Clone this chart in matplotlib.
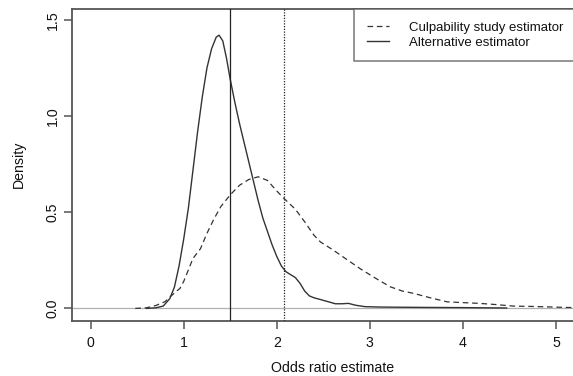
import matplotlib
matplotlib.use("Agg")
import matplotlib.pyplot as plt
from matplotlib.lines import Line2D

plt.rcParams['font.family'] = ['Liberation Sans', 'DejaVu Sans']

# Alternative estimator density (solid)
alt_x = [0.60, 0.70, 0.78, 0.85, 0.90, 0.95, 1.00, 1.05, 1.10, 1.15, 1.20, 1.25, 1.30, 1.35, 1.38,
         1.42, 1.46, 1.50, 1.55, 1.60, 1.65, 1.70, 1.75, 1.80, 1.85, 1.90, 1.95, 2.00, 2.05, 2.10,
         2.15, 2.20, 2.25, 2.30, 2.35, 2.40, 2.47, 2.55, 2.63, 2.70, 2.77, 2.85, 2.95, 3.10, 3.30,
         3.60, 4.00, 4.47]
alt_y = [0.0, 0.003, 0.012, 0.05, 0.11, 0.22, 0.36, 0.52, 0.72, 0.92, 1.10, 1.25, 1.35, 1.41, 1.42,
         1.39, 1.30, 1.19, 1.07, 0.96, 0.86, 0.76, 0.66, 0.56, 0.47, 0.40, 0.33, 0.27, 0.22, 0.19,
         0.175, 0.16, 0.13, 0.09, 0.065, 0.055, 0.046, 0.035, 0.024, 0.024, 0.026, 0.016, 0.009, 0.007, 0.006,
         0.005, 0.004, 0.002]

# Culpability study estimator density (dashed)
cul_x = [0.48, 0.60, 0.70, 0.80, 0.855, 0.90, 0.96, 1.00, 1.10, 1.18, 1.25, 1.32, 1.40, 1.50, 1.60,
         1.70, 1.80, 1.90, 2.00, 2.07, 2.20, 2.30, 2.40, 2.47, 2.60, 2.75, 2.90, 3.05, 3.22, 3.35,
         3.47, 3.65, 3.83, 4.00, 4.18, 4.35, 4.54, 4.75, 4.90, 5.10, 5.40]
cul_y = [0.0, 0.003, 0.015, 0.035, 0.06, 0.08, 0.104, 0.14, 0.26, 0.31, 0.39, 0.46, 0.53, 0.59, 0.64,
         0.67, 0.684, 0.665, 0.61, 0.575, 0.515, 0.45, 0.38, 0.345, 0.305, 0.255, 0.205, 0.16, 0.112, 0.09,
         0.078, 0.055, 0.034, 0.030, 0.026, 0.020, 0.012, 0.010, 0.008, 0.005, 0.003]

vline_solid = 1.5
vline_dotted = 2.08
x_ticks = [0, 1, 2, 3, 4, 5]
y_ticks = [0.0, 0.5, 1.0, 1.5]
y_ticklabels = ["0.0", "0.5", "1.0", "1.5"]
legend_labels = ["Culpability study estimator", "Alternative estimator"]

W, H = 573, 376
fig = plt.figure(figsize=(W / 100, H / 100), dpi=100)
left_px, top_px, bottom_px = 72, 9, 320.7
x0, xl, xr = 90.5, -0.2, 5.4
ppu = 93.1
right_px = x0 + xr * ppu
ax = fig.add_axes([left_px / W, 1 - bottom_px / H, (right_px - left_px) / W, (bottom_px - top_px) / H])
ax.set_xlim(xl, xr)
ax.set_ylim(-0.064, 1.556)

fs = 10.2
curve_col = '#333333'
ax.axhline(0, color='#b0b0b0', lw=0.9, zorder=1)
ax.plot(cul_x, cul_y, color=curve_col, lw=0.9, linestyle=(0, (4.5, 3)), zorder=2)
ax.plot(alt_x, alt_y, color=curve_col, lw=1.0, zorder=3)
ax.axvline(vline_solid, color='#222222', lw=0.9, zorder=3)
ax.axvline(vline_dotted, color='#222222', lw=0.9, linestyle=(0, (1, 1.2)), zorder=3)

spine_col = '#555555'
for s in ax.spines.values():
    s.set_color(spine_col)
    s.set_linewidth(1.3)
ax.set_xticks(x_ticks)
ax.set_xticklabels([str(t) for t in x_ticks])
ax.set_yticks(y_ticks)
ax.set_yticklabels(y_ticklabels, rotation=90, va='center')
ax.tick_params(axis='both', direction='out', length=6, width=1.1, color=spine_col,
               labelsize=fs, labelcolor='#111111')
ax.tick_params(axis='x', pad=5)
ax.tick_params(axis='y', pad=3)

ax.set_xlabel("Odds ratio estimate", fontsize=fs, color='#111111', labelpad=8)
fig.text(19 / W, 1 - 164 / H, "Density", rotation=90, fontsize=fs, color='#111111',
         ha='center', va='center')

handles = [Line2D([], [], color=curve_col, lw=0.9, linestyle=(0, (4.5, 3))),
           Line2D([], [], color=curve_col, lw=1.0)]
bh = 0.3
leg = ax.legend(handles, legend_labels, loc='upper left',
                bbox_to_anchor=(354 / W, 1 - top_px / H - bh, (right_px - 354) / W, bh),
                bbox_transform=fig.transFigure, mode='expand', borderaxespad=0,
                fontsize=9.5, frameon=True, fancybox=False, borderpad=0.95,
                labelspacing=0.2, handlelength=1.7, handletextpad=1.5)
leg.get_frame().set_edgecolor(spine_col)
leg.get_frame().set_linewidth(1.1)
for t in leg.get_texts():
    t.set_color('#111111')

fig.savefig("out.png", dpi=100)
